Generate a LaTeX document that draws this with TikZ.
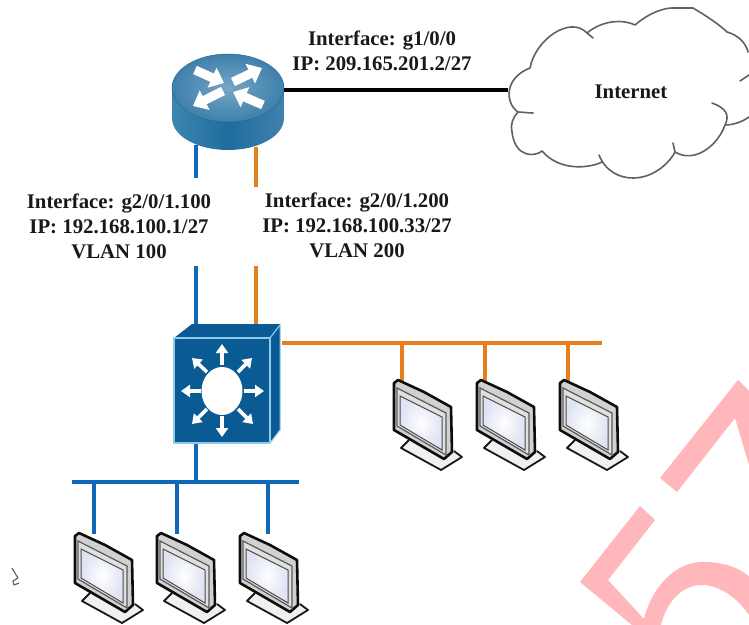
\documentclass[tikz,border=0pt]{standalone}
\usepackage{fontspec}
\setmainfont{Liberation Serif}
\usetikzlibrary{arrows.meta}
\definecolor{vblue}{HTML}{0F69B8}
\definecolor{vorange}{HTML}{E87D1E}
\definecolor{swblue}{HTML}{0A5A94}
\definecolor{swedge}{HTML}{8CCBEA}
\definecolor{wmark}{HTML}{FFB7BC}
\definecolor{rtop}{HTML}{74A6C6}
\definecolor{rtopo}{HTML}{3F80AB}
\definecolor{rbodyl}{HTML}{3D86B0}
\definecolor{rbodym}{HTML}{1F6C9E}
\definecolor{scr}{HTML}{DFE3F3}
\tikzset{
  lbl/.style={font=\bfseries\fontsize{20.8}{25}\selectfont, align=center, text=black!90, inner sep=0pt},
  bluelink/.style={draw=vblue, line width=4.8pt},
  orangelink/.style={draw=vorange, line width=4.8pt},
  wan/.style={draw=black, line width=3.5pt},
  rarrow/.style={draw=white, line width=9pt, -{Triangle[length=13pt,width=21pt]}},
  sarrow/.style={draw=white, line width=3.6pt, -{Triangle[length=9pt,width=12pt]}},
  cloudline/.style={draw=black!62, line width=1.6pt},
  pics/monitor/.style={code={
    \fill[black!6] (15,60) -- (7,68) -- (47,90) -- (68,77) -- (60,71) -- cycle;
    \draw[black!90, line width=1.8pt, line join=round] (15,60) -- (7,68) -- (47,90) -- (68,77) -- (60,71);
    \draw[black!95, line width=2.6pt, line join=round, fill=black!18]
      (0,3) -- (4,0) -- (30,12) -- (57,27) -- (58,72) -- (50,79) -- (0,50) -- cycle;
    \draw[black!65, line width=1.2pt, fill=black!12] (3,8) -- (52,33) -- (52,75) -- (3,46) -- cycle;
    \shade[inner color=white, outer color=scr, draw=black!70, line width=1pt]
      (6,16) -- (48,37) -- (48,70) -- (6,45) -- cycle;
  }}
}
\begin{document}
\begin{tikzpicture}[x=1pt,y=-1pt]
\useasboundingbox (0,0) rectangle (749,624);
\fill[white] (0,0) rectangle (749,624);
% watermark
\begin{scope}
\clip (0,0) rectangle (749,624);
\fill[wmark] (738,380) -- (660,478) -- (677,492) -- (735,418) -- (752,475) -- (760,402) -- cycle;
\fill[wmark] (640,506) -- (655,520) -- (608,580) -- (645,620) -- (645,630) -- (638,630) -- (580,582) -- cycle;
\fill[wmark] (642,630) .. controls (645,600) and (668,562) .. (703,562)
  .. controls (725,562) and (742,568) .. (755,582) -- (755,625)
  .. controls (742,600) and (720,584) .. (700,585)
  .. controls (680,586) and (664,605) .. (660,630) -- cycle;
\end{scope}
% stray mark
\draw[black!60, line width=1.2pt, line join=round] (12,568) -- (18,578) -- (13,581) -- (14,585) -- (19,583);

% cloud
\draw[cloudline, line cap=round, line join=round]
  (518,112) .. controls (505,103) and (504,78) .. (530,68)
  .. controls (535,40) and (570,15) .. (587,33)
  .. controls (600,22) and (620,18) .. (635,25)
  .. controls (650,12) and (665,8) .. (672,8)
  -- (693,8)
  .. controls (705,15) and (720,25) .. (727,32)
  .. controls (738,35) and (746,43) .. (748,52)
  (749,75) -- (740,81)
  (749,117) .. controls (742,122) and (733,125) .. (725,125)
  .. controls (730,115) and (726,108) .. (712,103)
  (725,125) .. controls (718,145) and (695,164) .. (675,152)
  (673,143) -- (675,152) .. controls (668,165) and (652,178) .. (633,178)
  .. controls (620,178) and (606,172) .. (599,155)
  (602,162) .. controls (590,168) and (560,172) .. (542,151)
  .. controls (535,157) and (515,158) .. (512,132)
  .. controls (510,125) and (513,117) .. (518,112)
  .. controls (522,112) and (528,113) .. (533,113)
  (587,33) -- (593,38);
\node[lbl] (inet) at (631,92) {Internet};

% router
\shade[left color=rbodyl, right color=rbodym!85!white, middle color=rbodym]
  (172,88) -- (172,118) .. controls (172,136) and (197,150) .. (228,150)
  .. controls (259,150) and (284,136) .. (284,118) -- (284,88) -- cycle;
\shade[inner color=rtop, outer color=rtopo, draw=rbodym, line width=.5pt]
  (228,88) ellipse[x radius=56, y radius=34];
\node[inner sep=0pt, minimum width=112pt, minimum height=96pt] (router) at (228,102) {};
\draw[rarrow] (195,70) -- (224,83);
\draw[rarrow] (233,82) -- (262,68);
\draw[rarrow] (223,91) -- (193,106);
\draw[rarrow] (263,105) -- (233,92);

% switch
\node[inner sep=0pt, minimum width=106pt, minimum height=119pt] (switch) at (227,383.5) {};
\fill[swblue] (174,338) -- (192,324) -- (280,324) -- (280,430) -- (270,443) -- (174,443) -- cycle;
\draw[swedge, line width=1.2pt, line join=round] (174,338) -- (270,338) -- (270,443) -- (174,443) -- cycle;
\draw[swedge, line width=1.2pt] (270,338) -- (280,325);
\draw[swedge, line width=1pt] (270,443) -- (280,430) -- (280,325);
\fill[white] (222,391) ellipse[x radius=20.5, y radius=24];
\draw[sarrow] (222,365) -- (222,344);
\draw[sarrow] (222,416) -- (222,437);
\draw[sarrow] (201,391) -- (181,391);
\draw[sarrow] (244,391) -- (264,391);
\draw[sarrow] (238,372) -- (252,358);
\draw[sarrow] (207,372) -- (192,358);
\draw[sarrow] (238,409) -- (253,424);
\draw[sarrow] (207,409) -- (192,424);

% labels
\node[lbl] (l1) at (382,51) {Interface: g1/0/0\\IP: 209.165.201.2/27};
\node[lbl] (l2) at (119,226) {Interface: g2/0/1.100\\IP: 192.168.100.1/27\\VLAN 100};
\node[lbl] (l3) at (357,225) {Interface: g2/0/1.200\\IP: 192.168.100.33/27\\VLAN 200};

% free-end coordinates
\coordinate (wanend) at (508,90);
\coordinate (wanstart) at (284,90);
\coordinate (b1) at (196,145);
\coordinate (b2) at (196,178);
\coordinate (b3) at (196,266);
\coordinate (b4) at (196,324);
\coordinate (o1) at (256,147);
\coordinate (o2) at (256,187);
\coordinate (o3) at (256,266);
\coordinate (o4) at (256,324);
\coordinate (obusL) at (282,343);
\coordinate (obusR) at (602,343);
\coordinate (bbusL) at (72,482);
\coordinate (bbusR) at (299,482);
\coordinate (bswt) at (196,444);
\coordinate (bswb) at (196,482);
\coordinate (ot1) at (402,343); \coordinate (om1) at (402,381);
\coordinate (ot2) at (485,343); \coordinate (om2) at (485,381);
\coordinate (ot3) at (568,343); \coordinate (om3) at (568,381);
\coordinate (bt1) at (94,482);  \coordinate (bm1) at (94,534);
\coordinate (bt2) at (177,482); \coordinate (bm2) at (177,534);
\coordinate (bt3) at (268,482); \coordinate (bm3) at (268,534);

% connectors
\draw[wan] (wanstart) -- (wanend);
\draw[bluelink] (b1) -- (b2);
\draw[bluelink] (b3) -- (b4);
\draw[orangelink] (o1) -- (o2);
\draw[orangelink] (o3) -- (o4);
\draw[orangelink] (obusL) -- (obusR);
\draw[orangelink] (ot1) -- (om1);
\draw[orangelink] (ot2) -- (om2);
\draw[orangelink] (ot3) -- (om3);
\draw[bluelink] (bswt) -- (bswb);
\draw[bluelink] (bbusL) -- (bbusR);
\draw[bluelink] (bt1) -- (bm1);
\draw[bluelink] (bt2) -- (bm2);
\draw[bluelink] (bt3) -- (bm3);

% monitors
\pic at (394,380) {monitor};
\pic at (477,380) {monitor};
\pic at (560,380) {monitor};
\pic at (75,533) {monitor};
\pic at (157,533) {monitor};
\pic at (240,533) {monitor};
\end{tikzpicture}
\end{document}
